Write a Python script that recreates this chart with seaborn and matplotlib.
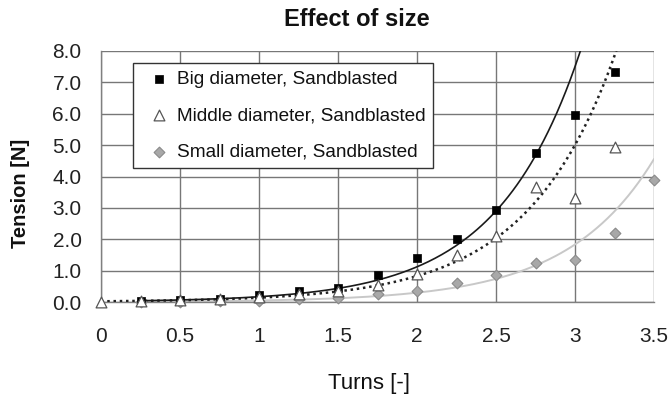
import numpy as np
import pandas as pd
import matplotlib
matplotlib.use("Agg")
import matplotlib.pyplot as plt
import seaborn as sns

# Measured tension versus number of turns
turns_big = [0.25, 0.5, 0.75, 1.0, 1.25, 1.5, 1.75, 2.0, 2.25, 2.5, 2.75, 3.0, 3.25]
tension_big = [0.03, 0.06, 0.1, 0.22, 0.35, 0.45, 0.85, 1.4, 2.0, 2.92, 4.75, 5.95, 7.32]

turns_mid = [0.0, 0.25, 0.5, 0.75, 1.0, 1.25, 1.5, 1.75, 2.0, 2.25, 2.5, 2.75, 3.0, 3.25]
tension_mid = [0.0, 0.02, 0.05, 0.08, 0.15, 0.25, 0.35, 0.55, 0.9, 1.5, 2.1, 3.65, 3.3, 4.95]

turns_small = [0.25, 0.5, 0.75, 1.0, 1.25, 1.5, 1.75, 2.0, 2.25, 2.5, 2.75, 3.0, 3.25, 3.5]
tension_small = [0.0, 0.01, 0.02, 0.04, 0.08, 0.12, 0.25, 0.35, 0.6, 0.85, 1.25, 1.35, 2.2, 3.9]

# Exponential trendlines y = a * exp(b * x): (a, b, x_start, x_end)
trend_big = [0.0251, 1.90, 0.25, 3.04]
trend_mid = [0.0226, 1.80, 0.0, 3.29]
trend_small = [0.0078, 1.82, 0.25, 3.5]

labels = ["Big diameter, Sandblasted",
          "Middle diameter, Sandblasted",
          "Small diameter, Sandblasted"]

x_ticks = [0, 0.5, 1, 1.5, 2, 2.5, 3, 3.5]
x_ticklabels = ["0", "0.5", "1", "1.5", "2", "2.5", "3", "3.5"]
y_ticks = [0, 1, 2, 3, 4, 5, 6, 7, 8]
y_ticklabels = ["0.0", "1.0", "2.0", "3.0", "4.0", "5.0", "6.0", "7.0", "8.0"]

sns.set_style("white")
plt.rcParams["font.family"] = ["Liberation Sans", "DejaVu Sans"]

W, H = 671, 399
fig = plt.figure(figsize=(W / 100, H / 100), dpi=100)
L, R, T, B = 101, 654, 51, 302
ax = fig.add_axes([L / W, 1 - B / H, (R - L) / W, (B - T) / H])


def trend_frame(params):
    a, b, x0, x1 = params
    xs = np.linspace(x0, x1, 200)
    return pd.DataFrame({"x": xs, "y": a * np.exp(b * xs)})


# Trendlines
sns.lineplot(data=trend_frame(trend_small), x="x", y="y", ax=ax,
             color="#c8c8c8", lw=1.4, sort=False, zorder=2)
sns.lineplot(data=trend_frame(trend_mid), x="x", y="y", ax=ax,
             color="#222222", lw=1.8, sort=False, zorder=3, linestyle=(0, (1, 1.5)))
sns.lineplot(data=trend_frame(trend_big), x="x", y="y", ax=ax,
             color="#1a1a1a", lw=1.2, sort=False, zorder=4)

# Measured points
sns.scatterplot(x=turns_big, y=tension_big, ax=ax, marker="s", s=40,
                color="#000000", edgecolor="#000000", linewidth=0.5,
                zorder=6, label=labels[0], clip_on=False)
sns.scatterplot(x=turns_mid, y=tension_mid, ax=ax, marker="^", s=60,
                color="white", edgecolor="#555555", linewidth=0.9,
                zorder=7, label=labels[1], clip_on=False)
sns.scatterplot(x=turns_small, y=tension_small, ax=ax, marker="D", s=30,
                color="#a8a8a8", edgecolor="#8a8a8a", linewidth=0.8,
                zorder=5, label=labels[2], clip_on=False)

ax.set_xlim(0, 3.5)
ax.set_ylim(0, 8)
ax.set_xticks(x_ticks)
ax.set_xticklabels(x_ticklabels)
ax.set_yticks(y_ticks)
ax.set_yticklabels(y_ticklabels)
ax.tick_params(axis="both", labelsize=15, colors="#222222", length=6,
               width=1.0, direction="out")
ax.tick_params(axis="x", pad=12, color="#808080")
ax.tick_params(axis="y", pad=8, color="#808080")
ax.grid(True, color="#777777", lw=1.0)
ax.set_axisbelow(True)
for side in ["top", "right"]:
    ax.spines[side].set_visible(False)
for side in ["left", "bottom"]:
    ax.spines[side].set_color("#808080")
    ax.spines[side].set_linewidth(1.0)

ax.set_xlabel("")
ax.set_ylabel("")
fig.text(357 / W, 1 - 20 / H, "Effect of size", ha="center", va="center",
         fontsize=17, fontweight="bold", color="#111111")
fig.text(369 / W, 1 - 384 / H, "Turns [-]", ha="center", va="center",
         fontsize=16, color="#111111")
fig.text(21 / W, 1 - 193 / H, "Tension [N]", ha="center", va="center",
         rotation=90, fontsize=14.5, fontweight="bold", color="#111111")

leg = ax.legend(loc="upper left", bbox_to_anchor=((133 - L) / (R - L), 1 - (63 - T) / (B - T)),
                frameon=True, fancybox=False, fontsize=13.7, borderpad=0.4,
                labelspacing=1.0, handletextpad=0.0, handlelength=1.9,
                borderaxespad=0)
leg.get_frame().set_edgecolor("#333333")
leg.get_frame().set_linewidth(1.0)
leg.get_frame().set_facecolor("white")
leg.get_frame().set_alpha(1.0)
for t in leg.get_texts():
    t.set_color("#111111")

fig.savefig("out.png", dpi=100)
